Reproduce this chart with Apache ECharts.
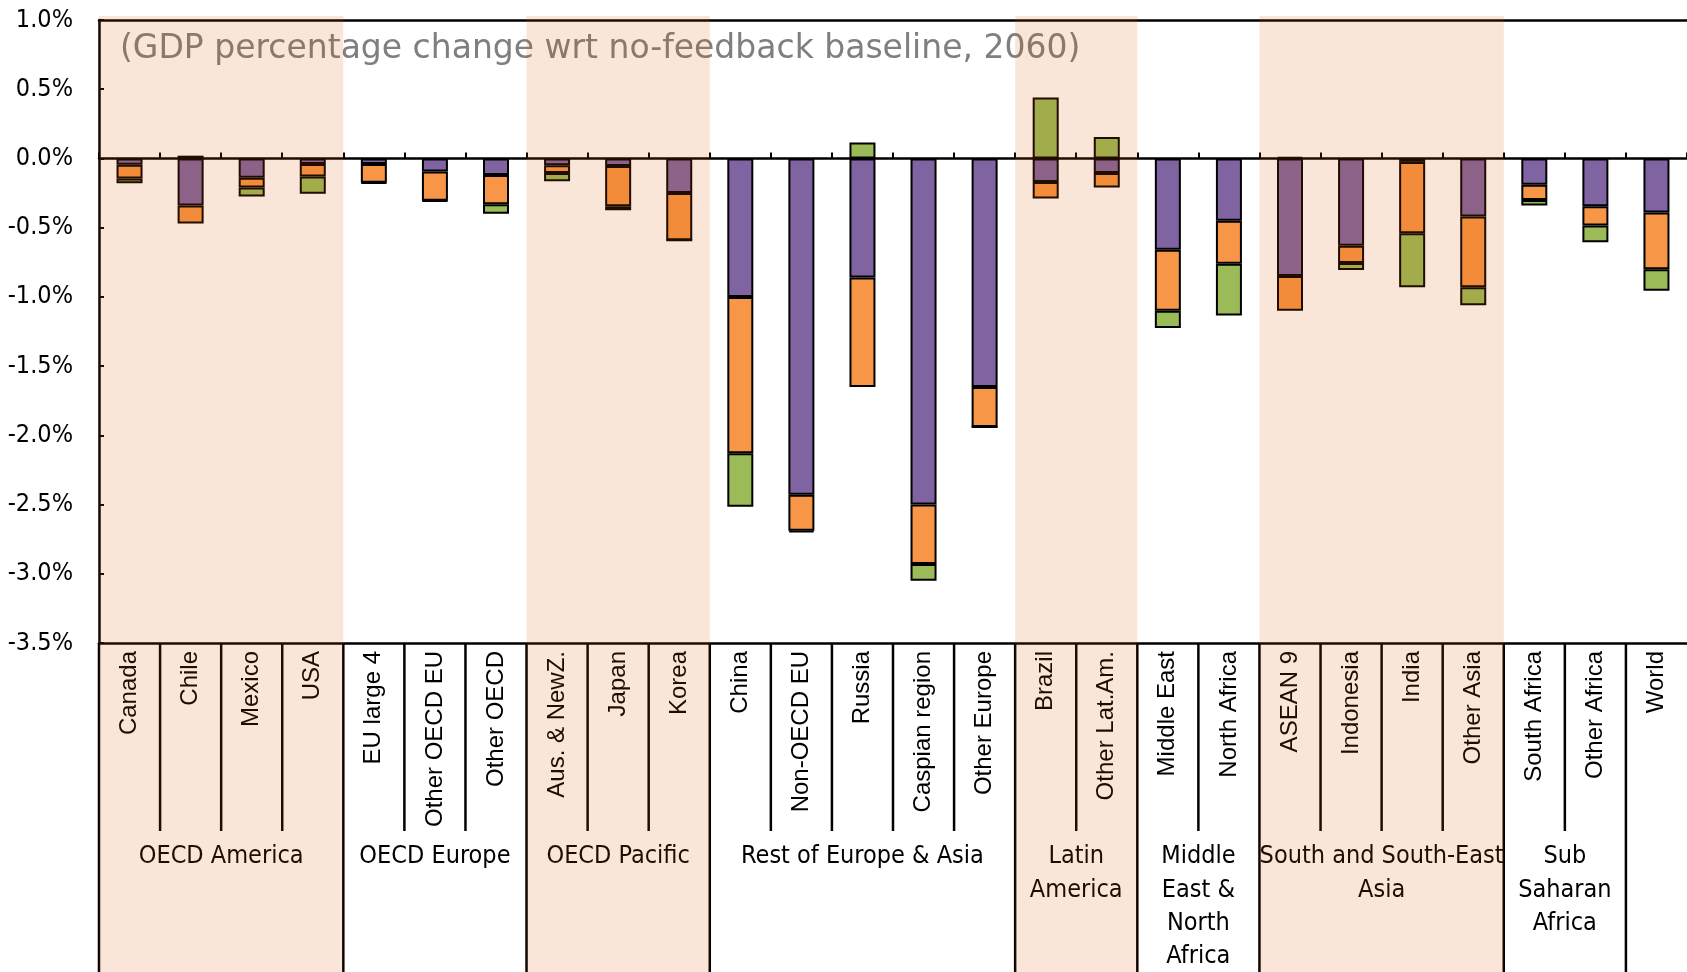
<!DOCTYPE html>
<html>
<head>
<meta charset="utf-8">
<script src="https://cdn.jsdelivr.net/npm/echarts@6/dist/echarts.min.js"></script>
<style>
html,body{margin:0;padding:0;background:#fff;}
#chart{width:1687px;height:972px;}
</style>
</head>
<body>
<div id="chart"></div>
<script>
// ---- data ----
const categories = ['Canada','Chile','Mexico','USA','EU large 4','Other OECD EU','Other OECD','Aus. & NewZ.','Japan','Korea','China','Non-OECD EU','Russia','Caspian region','Other Europe','Brazil','Other Lat.Am.','Middle East','North Africa','ASEAN 9','Indonesia','India','Other Asia','South Africa','Other Africa','World'];
const purpleVals = [-0.045,-0.34,-0.14,-0.04,-0.04,-0.095,-0.12,-0.05,-0.055,-0.25,-1.0,-2.43,-0.86,-2.50,-1.65,-0.17,-0.105,-0.66,-0.45,-0.85,-0.63,-0.025,-0.42,-0.19,-0.345,-0.39];
const orangeVals = [-0.10,-0.13,-0.07,-0.09,-0.135,-0.21,-0.21,-0.055,-0.29,-0.34,-1.13,-0.26,-0.79,-0.43,-0.29,-0.12,-0.105,-0.44,-0.31,-0.25,-0.125,-0.515,-0.51,-0.11,-0.14,-0.41];
const greenVals = [-0.035,0.02,-0.065,-0.125,-0.005,-0.005,-0.07,-0.06,-0.03,0,-0.385,-0.01,0.115,-0.12,0,0.44,0.155,-0.125,-0.375,0.01,-0.05,-0.39,-0.13,-0.04,-0.12,-0.155];
const groupLabels = ['OECD America','OECD Europe','OECD Pacific','Rest of Europe & Asia','Latin\nAmerica','Middle\nEast &\nNorth\nAfrica','South and South-East\nAsia','Sub\nSaharan\nAfrica',''];
const groupSizes = [4,3,3,5,2,2,4,2,1];
const groupShaded = [true,false,true,false,true,false,true,false,false];
const yTicks = {min:-3.5, max:1.0, interval:0.5};
const titleText = '(GDP percentage change wrt no-feedback baseline, 2060)';

// ---- derived ----
const groupStart = [];
let acc = 0;
groupSizes.forEach(s => { groupStart.push(acc); acc += s; });
const groupData = groupSizes.map((s,i) => [groupStart[i], s]);
const bandData = groupSizes.map((s,i) => [groupStart[i], groupStart[i]+s]).filter((d,i) => groupShaded[i]);

const narrow = "'Liberation Sans Narrow','DejaVu Sans Condensed','Liberation Sans',Arial,sans-serif";
const sans = "'Liberation Sans',Arial,sans-serif";
const GRID_LEFT = 99, PLOT_TOP = 20, PLOT_BOTTOM = 643;

const chart = echarts.init(document.getElementById('chart'), null, {renderer:'canvas'});

function renderGroup(params, api) {
  const cs = params.coordSys;
  const start = api.value(0), size = api.value(1);
  const children = [];
  const x0 = api.coord([start, 0])[0];
  children.push({type:'line', shape:{x1:x0, y1:cs.y, x2:x0, y2:cs.y+cs.height}, style:{stroke:'#000', lineWidth:2.5}});
  for (let k = 1; k < size; k++) {
    const xk = api.coord([start+k, 0])[0];
    children.push({type:'line', shape:{x1:xk, y1:cs.y, x2:xk, y2:cs.y+188}, style:{stroke:'#000', lineWidth:2.5}});
  }
  const xc = api.coord([start+size/2, 0])[0];
  children.push({type:'text', style:{text:groupLabels[params.dataIndex], x:xc, y:cs.y+197, align:'center', verticalAlign:'top', fontSize:25, fontFamily:narrow, lineHeight:33.4, fill:'#000'}});
  return {type:'group', children};
}

function renderBand(params, api) {
  const xa = api.coord([api.value(0), 0])[0];
  const xb = api.coord([api.value(1), 0])[0];
  return {type:'rect', shape:{x:xa, y:16, width:xb-xa, height:api.getHeight()-16}, style:{fill:'rgba(215,88,0,0.15)'}};
}

const barBase = {type:'bar', stack:'total', barWidth:26, xAxisIndex:0, yAxisIndex:0,
  itemStyle:{borderColor:'#000', borderWidth:2}, emphasis:{disabled:true}};

chart.setOption({
  animation:false,
  backgroundColor:'#fff',
  title:{text:titleText, left:120, top:31, padding:0, z:1,
    textStyle:{fontSize:33, fontWeight:'normal', color:'#7f7f7f', fontFamily:"'DejaVu Sans',sans-serif", lineHeight:36}},
  grid:[
    {left:GRID_LEFT, right:0, top:PLOT_TOP, bottom:972-PLOT_BOTTOM},
    {left:GRID_LEFT, right:0, top:PLOT_BOTTOM, bottom:0}
  ],
  xAxis:[
    {type:'category', gridIndex:0, data:categories,
      axisLine:{onZero:true, lineStyle:{color:'#000', width:2.5}},
      axisTick:{show:true, inside:true, length:6, interval:0, lineStyle:{color:'#000', width:2}},
      axisLabel:{show:false}, splitLine:{show:false}},
    {type:'category', gridIndex:0, data:categories, position:'bottom',
      axisLine:{onZero:false, lineStyle:{color:'#000', width:2.5}},
      axisTick:{show:false},
      axisLabel:{show:true, interval:0, rotate:90, margin:8, fontSize:24, fontFamily:sans, color:'#000'}},
    {type:'category', gridIndex:0, data:categories, position:'top',
      axisLine:{onZero:false, lineStyle:{color:'#000', width:2.5}},
      axisTick:{show:false}, axisLabel:{show:false}},
    {type:'value', gridIndex:1, min:0, max:categories.length, show:false}
  ],
  yAxis:[
    {type:'value', gridIndex:0, min:yTicks.min, max:yTicks.max, interval:yTicks.interval,
      axisLine:{show:true, lineStyle:{color:'#000', width:2.5}},
      axisTick:{show:true, inside:true, length:5, lineStyle:{color:'#000', width:2}},
      axisLabel:{margin:26, fontSize:25, fontFamily:narrow, color:'#000', formatter:v => v.toFixed(1)+'%'},
      splitLine:{show:false}},
    {type:'value', gridIndex:1, min:0, max:1, show:false}
  ],
  series:[
    Object.assign({}, barBase, {name:'Component 1', data:purpleVals, itemStyle:Object.assign({}, barBase.itemStyle, {color:'#8064A2'})}),
    Object.assign({}, barBase, {name:'Component 2', data:orangeVals, itemStyle:Object.assign({}, barBase.itemStyle, {color:'#F79646'})}),
    Object.assign({}, barBase, {name:'Component 3', data:greenVals, itemStyle:Object.assign({}, barBase.itemStyle, {color:'#9BBB59'})}),
    {type:'custom', name:'groups', xAxisIndex:3, yAxisIndex:1, data:groupData, renderItem:renderGroup, silent:true, z:3, clip:false},
    {type:'custom', name:'bands', xAxisIndex:3, yAxisIndex:1, data:bandData, renderItem:renderBand, silent:true, z:20, clip:false}
  ]
});
</script>
</body>
</html>
